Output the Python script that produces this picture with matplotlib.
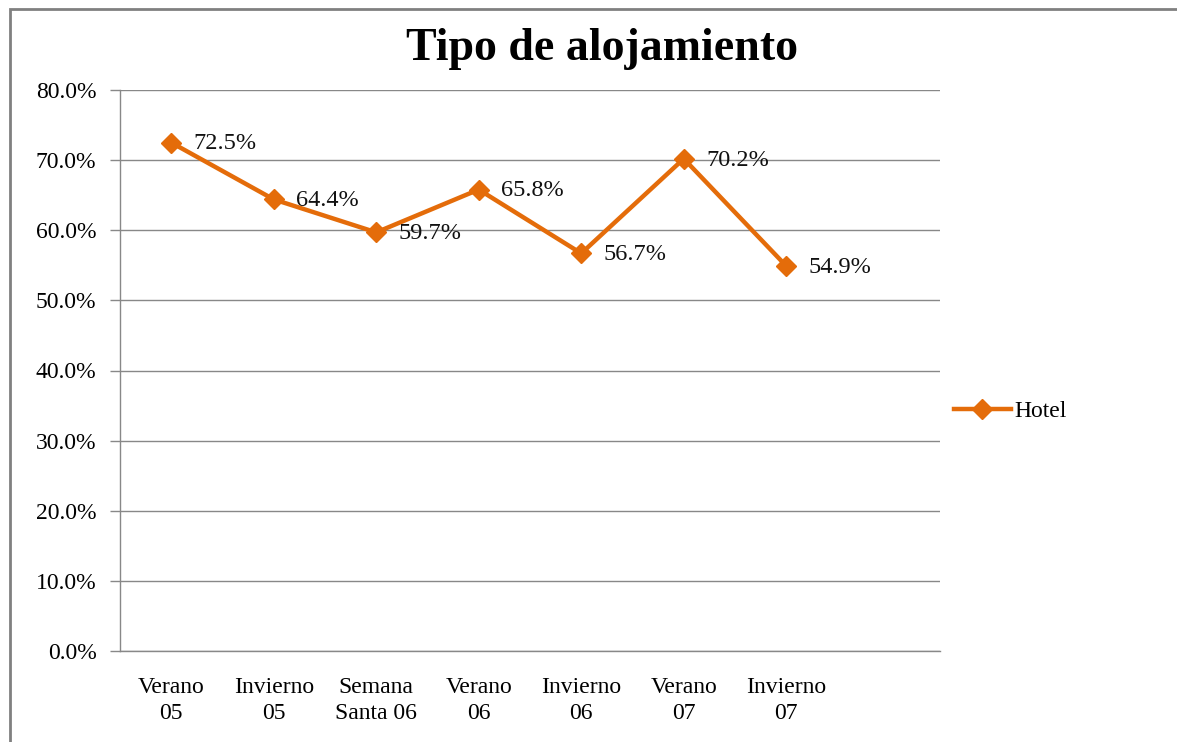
import matplotlib
matplotlib.use("Agg")
import matplotlib.pyplot as plt
from matplotlib.patches import Rectangle

categories = ["Verano\n05", "Invierno\n05", "Semana\nSanta 06", "Verano\n06",
              "Invierno\n06", "Verano\n07", "Invierno\n07"]
hotel = [72.5, 64.4, 59.7, 65.8, 56.7, 70.2, 54.9]
yticks = [0, 10, 20, 30, 40, 50, 60, 70, 80]
title = "Tipo de alojamiento"
series_name = "Hotel"

W, H = 1177, 742
fig = plt.figure(figsize=(W / 100, H / 100), dpi=100)
plt.rcParams['font.family'] = ['Liberation Serif', 'DejaVu Serif']

ax = fig.add_axes([120 / W, 1 - 651 / H, (940 - 120) / W, (651 - 90) / H])
orange = "#E46C0A"
x = list(range(len(categories)))
ax.plot(x, hotel, color=orange, lw=3.2, marker="D", ms=10, mec=orange, mfc=orange,
        label=series_name, zorder=3)

for xi, v in zip(x, hotel):
    ax.annotate(f"{v:.1f}%", (xi, v), xytext=(16, -1), textcoords="offset points",
                ha="left", va="center", fontsize=17.5, color="#111111", zorder=4)

ax.set_xlim(-0.5, 7.5)
ax.set_ylim(0, 80)
ax.set_yticks(yticks)
ax.set_yticklabels([f"{t:.1f}%" for t in yticks], fontsize=17)
ax.set_xticks(x)
ax.set_xticklabels(categories, fontsize=17, linespacing=1.3)
ax.tick_params(axis="x", length=0, pad=19)
ax.tick_params(axis="y", length=7, width=1, color="#888888", pad=10)
ax.grid(axis="y", color="#888888", lw=1)
ax.set_axisbelow(True)
for s in ["top", "right"]:
    ax.spines[s].set_visible(False)
for s in ["left", "bottom"]:
    ax.spines[s].set_color("#888888")
    ax.spines[s].set_linewidth(1)

fig.text(602 / W, 1 - 49 / H, title, ha="center", va="center",
         fontsize=33, fontweight="bold")

leg = ax.legend(loc="center left", bbox_to_anchor=(954 / W, 1 - 411 / H),
                bbox_transform=fig.transFigure, frameon=False, fontsize=17,
                handlelength=2.4, handletextpad=0.15, borderaxespad=0, borderpad=0)

fig.patches.append(Rectangle((10 / W, -0.1), 1.2, 1.1 - 9 / H, transform=fig.transFigure,
                             fill=False, ec="#808080", lw=2, figure=fig))

fig.savefig("out.png", dpi=100)
